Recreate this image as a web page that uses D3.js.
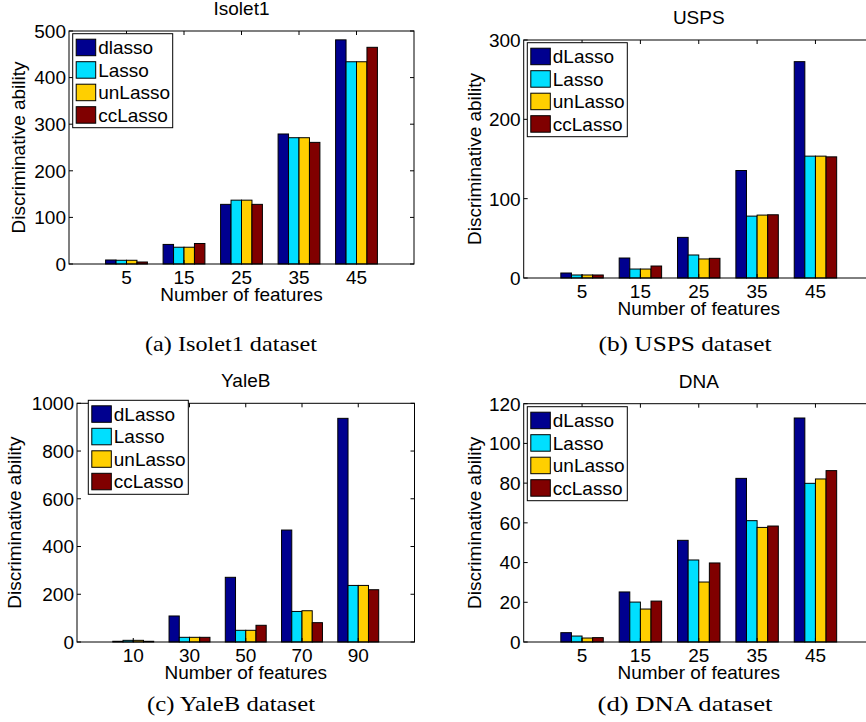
<!DOCTYPE html>
<html lang="en">
<head>
  <meta charset="UTF-8">
  <script src="https://d3js.org/d3.v7.min.js"></script>
  <style>
    body { margin: 0; background: #fff; }
    svg { display: block; }
    text { font-family: "Liberation Sans", Arial, sans-serif; fill: #000; }
    .caption { font-family: "Liberation Serif", "Times New Roman", serif; font-size: 22px; }
  </style>
</head>
<body>
  <script>
    const width = 866;
    const height = 722;

    // series colours (matlab jet, 4 series)
    const seriesColors = ["#00008f", "#00dfff", "#ffcf00", "#800000"];

    // legend labels (Isolet1 panel spells the first one in lower case)
    const legendIsolet = ["dlasso", "Lasso", "unLasso", "ccLasso"];
    const legendOther = ["dLasso", "Lasso", "unLasso", "ccLasso"];

    // x categories
    const featuresIsolet = [5, 15, 25, 35, 45];
    const featuresUSPS = [5, 15, 25, 35, 45];
    const featuresYaleB = [10, 30, 50, 70, 90];
    const featuresDNA = [5, 15, 25, 35, 45];

    // values per category: [dLasso, Lasso, unLasso, ccLasso]
    const valuesIsolet = [[8.6, 8, 8, 4.3], [42, 36, 36, 44], [128, 137, 137, 128], [279, 271, 271, 261], [481, 434, 434, 465]];
    const valuesUSPS = [[6.3, 3.8, 3.8, 3.8], [25.2, 11.3, 11.3, 15.1], [51.2, 29, 24, 24.8], [135.5, 78, 79.3, 79.7], [272.7, 153.6, 153.6, 152.7]];
    const valuesYaleB = [[3, 7, 7, 3], [109, 19.6, 19.6, 19.6], [271, 49, 49, 70], [469, 128, 131, 81], [937, 237, 237, 219]];
    const valuesDNA = [[4.7, 3, 2, 2.2], [25.2, 20.1, 16.6, 20.6], [51.2, 41.3, 30.2, 39.8], [82.4, 61.1, 57.7, 58.4], [112.8, 79.9, 82.1, 86.3]];

    // y tick values
    const yTicksIsolet = [0, 100, 200, 300, 400, 500];
    const yTicksUSPS = [0, 100, 200, 300];
    const yTicksYaleB = [0, 200, 400, 600, 800, 1000];
    const yTicksDNA = [0, 20, 40, 60, 80, 100, 120];

    const titles = ["Isolet1", "USPS", "YaleB", "DNA"];
    const captions = ["(a) Isolet1 dataset", "(b) USPS dataset", "(c) YaleB dataset", "(d) DNA dataset"];

    const svg = d3.select("body")
      .append("svg")
      .attr("width", width)
      .attr("height", height);

    // one entry per subplot: data + where it sits on the page
    const panels = [
      { title: titles[0], caption: captions[0], legend: legendIsolet, cats: featuresIsolet, vals: valuesIsolet, ticks: yTicksIsolet,
        left: 69, right: 414, top: 31, bottom: 264, legX: 3.7, legY: 2.7, ylabOff: 44, capX: 231, capY: 351, capW: 172 },
      { title: titles[1], caption: captions[1], legend: legendOther, cats: featuresUSPS, vals: valuesUSPS, ticks: yTicksUSPS,
        left: 523.7, right: 873.8, top: 40, bottom: 278, legX: 3.6, legY: 2.7, ylabOff: 43, capX: 685, capY: 351, capW: 173 },
      { title: titles[2], caption: captions[2], legend: legendOther, cats: featuresYaleB, vals: valuesYaleB, ticks: yTicksYaleB,
        left: 77, right: 414.5, top: 403.3, bottom: 642, legX: 11.3, legY: -3, ylabOff: 56, capX: 231, capY: 711, capW: 168 },
      { title: titles[3], caption: captions[3], legend: legendOther, cats: featuresDNA, vals: valuesDNA, ticks: yTicksDNA,
        left: 523.7, right: 873.8, top: 403.7, bottom: 642, legX: 3.6, legY: 3, ylabOff: 43, capX: 685, capY: 711, capW: 175 }
    ];

    const fontSize = 19;
    const tickLen = 4;

    panels.forEach(p => {
      const g = svg.append("g");
      const n = p.cats.length;

      const x = d3.scaleLinear().domain([0, n + 1]).range([p.left, p.right]);
      const y = d3.scaleLinear().domain([0, d3.max(p.ticks)]).range([p.bottom, p.top]);

      // grouped bars: group width 4/5.5 of a slot, bars touching
      const groupW = (x(1) - x(0)) * (4 / 5.5);
      const inner = d3.scaleBand().domain(d3.range(4)).range([-groupW / 2, groupW / 2]);

      const groups = g.selectAll(".grp")
        .data(p.vals)
        .enter()
        .append("g")
        .attr("transform", (d, i) => `translate(${x(i + 1)},0)`);

      groups.selectAll("rect")
        .data(d => d)
        .enter()
        .append("rect")
        .attr("x", (d, j) => inner(j))
        .attr("y", d => y(d))
        .attr("width", inner.bandwidth())
        .attr("height", d => y(0) - y(d))
        .attr("fill", (d, j) => seriesColors[j])
        .attr("stroke", "#000")
        .attr("stroke-width", 1);

      // axes box
      g.append("rect")
        .attr("x", p.left)
        .attr("y", p.top)
        .attr("width", p.right - p.left)
        .attr("height", p.bottom - p.top)
        .attr("fill", "none")
        .attr("stroke", "#000")
        .attr("stroke-width", 1);

      // y ticks (inside, both sides) + labels
      p.ticks.forEach(t => {
        g.append("line").attr("x1", p.left).attr("x2", p.left + tickLen)
          .attr("y1", y(t)).attr("y2", y(t)).attr("stroke", "#000");
        g.append("line").attr("x1", p.right).attr("x2", p.right - tickLen)
          .attr("y1", y(t)).attr("y2", y(t)).attr("stroke", "#000");
        g.append("text")
          .attr("x", p.left - 3)
          .attr("y", y(t))
          .attr("dy", "0.36em")
          .attr("text-anchor", "end")
          .style("font-size", fontSize + "px")
          .text(t);
      });

      // x ticks (inside, top and bottom) + labels
      p.cats.forEach((c, i) => {
        const xx = x(i + 1);
        g.append("line").attr("x1", xx).attr("x2", xx)
          .attr("y1", p.bottom).attr("y2", p.bottom - tickLen).attr("stroke", "#000");
        g.append("line").attr("x1", xx).attr("x2", xx)
          .attr("y1", p.top).attr("y2", p.top + tickLen).attr("stroke", "#000");
        g.append("text")
          .attr("x", xx)
          .attr("y", p.bottom + 20)
          .attr("text-anchor", "middle")
          .style("font-size", fontSize + "px")
          .text(c);
      });

      const axisMidX = (x(0) + x(n + 1)) / 2;

      g.append("text")
        .attr("x", axisMidX)
        .attr("y", p.bottom + 37)
        .attr("text-anchor", "middle")
        .style("font-size", fontSize + "px")
        .text("Number of features");

      g.append("text")
        .attr("transform", `translate(${p.left - p.ylabOff},${(p.top + p.bottom) / 2}) rotate(-90)`)
        .attr("text-anchor", "middle")
        .style("font-size", fontSize + "px")
        .text("Discriminative ability");

      g.append("text")
        .attr("x", axisMidX)
        .attr("y", p.top - 16)
        .attr("text-anchor", "middle")
        .style("font-size", fontSize + "px")
        .text(p.title);

      // legend
      const lx = p.left + p.legX;
      const ly = p.top + p.legY;
      const rowH = 22.5;
      const leg = g.append("g").attr("transform", `translate(${lx},${ly})`);
      leg.append("rect")
        .attr("width", 100)
        .attr("height", 94)
        .attr("fill", "#fff")
        .attr("stroke", "#000")
        .attr("stroke-width", 1);
      p.legend.forEach((name, j) => {
        leg.append("rect")
          .attr("x", 3.5)
          .attr("y", 5.5 + j * rowH)
          .attr("width", 19.5)
          .attr("height", 16.5)
          .attr("fill", seriesColors[j])
          .attr("stroke", "#000");
        leg.append("text")
          .attr("x", 25.5)
          .attr("y", 20.5 + j * rowH)
          .style("font-size", fontSize + "px")
          .text(name);
      });

      svg.append("text")
        .attr("class", "caption")
        .attr("x", p.capX)
        .attr("y", p.capY)
        .attr("text-anchor", "middle")
        .attr("textLength", p.capW)
        .attr("lengthAdjust", "spacingAndGlyphs")
        .text(p.caption);
    });
  </script>
</body>
</html>
